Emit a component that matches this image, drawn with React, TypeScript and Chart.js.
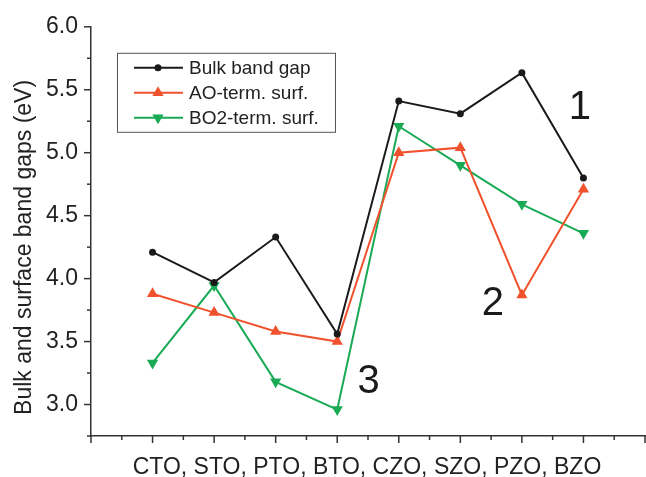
import { useEffect, useRef } from 'react';
import { Chart, registerables } from 'chart.js';

Chart.register(...registerables);

const categories = ['CTO', 'STO', 'PTO', 'BTO', 'CZO', 'SZO', 'PZO', 'BZO'];
const positions = [1, 2, 3, 4, 5, 6, 7, 8];
const bulkGap = [4.21, 3.97, 4.33, 3.56, 5.41, 5.31, 5.635, 4.8];
const aoTerm = [3.88, 3.73, 3.58, 3.5, 5.0, 5.04, 3.87, 4.71];
const bo2Term = [3.33, 3.945, 3.18, 2.96, 5.21, 4.9, 4.59, 4.36];
const yTicks = [3.0, 3.5, 4.0, 4.5, 5.0, 5.5, 6.0];
const seriesNames = ['Bulk band gap', 'AO-term. surf.', 'BO2-term. surf.'];
const notes = [
  { text: '1', x: 7.94, y: 5.384 },
  { text: '2', x: 6.53, y: 3.83 },
  { text: '3', x: 4.51, y: 3.205 },
];
const xTitle = categories.join(', ');
const yTitle = 'Bulk and surface band gaps (eV)';

const FONT = '"Liberation Sans", Arial, sans-serif';
const BLACK = '#1a1a1a';
const RED = '#ef522c';
const GREEN = '#1aaa55';
const AXIS = '#333333';

const overlay = {
  id: 'overlay',
  afterDraw(chart: any) {
    const ctx = chart.ctx;
    const xs = chart.scales.x;
    const ys = chart.scales.y;
    const area = chart.chartArea;
    ctx.save();
    ctx.strokeStyle = AXIS;
    ctx.lineWidth = 1.5;
    // y ticks
    for (let i = 0; i <= 13; i++) {
      const v = ys.min + i * 0.25;
      const py = ys.getPixelForValue(v);
      const major = Math.abs(v * 2 - Math.round(v * 2)) < 1e-6;
      ctx.beginPath();
      ctx.moveTo(area.left, py);
      ctx.lineTo(area.left - (major ? 7 : 4), py);
      ctx.stroke();
    }
    // x ticks
    for (let i = 0; i <= 18; i++) {
      const v = i * 0.5;
      const px = xs.getPixelForValue(v);
      const major = i % 2 === 0;
      ctx.beginPath();
      ctx.moveTo(px, area.bottom);
      ctx.lineTo(px, area.bottom + (major ? 7 : 4));
      ctx.stroke();
    }
    // titles
    ctx.fillStyle = '#222';
    ctx.font = `23px ${FONT}`;
    ctx.textAlign = 'center';
    ctx.textBaseline = 'alphabetic';
    ctx.fillText(xTitle, (area.left + area.right) / 2 - 1, area.bottom + 37.5);
    ctx.save();
    ctx.translate(31, (area.top + area.bottom) / 2 + 16);
    ctx.rotate(-Math.PI / 2);
    ctx.font = `23px ${FONT}`;
    ctx.fillText(yTitle, 0, 0);
    ctx.restore();
    // notes
    ctx.font = `40px ${FONT}`;
    ctx.fillStyle = '#1a1a1a';
    notes.forEach((n) => {
      ctx.fillText(n.text, xs.getPixelForValue(n.x), ys.getPixelForValue(n.y) + 14.5);
    });
    // legend
    const bx = area.left + 26;
    const by = area.top + 26;
    ctx.strokeStyle = '#555';
    ctx.lineWidth = 1;
    ctx.strokeRect(bx + 0.5, by + 0.5, 218, 79);
    ctx.font = `19px ${FONT}`;
    ctx.textAlign = 'left';
    ctx.textBaseline = 'middle';
    chart.data.datasets.forEach((ds: any, i: number) => {
      const ry = by + 15 + i * 25;
      ctx.strokeStyle = ds.borderColor;
      ctx.lineWidth = 2;
      ctx.beginPath();
      ctx.moveTo(bx + 17, ry);
      ctx.lineTo(bx + 66, ry);
      ctx.stroke();
      ctx.fillStyle = ds.pointBackgroundColor;
      const cx = bx + 41;
      ctx.beginPath();
      if (ds.pointStyle === 'circle') {
        ctx.arc(cx, ry, ds.pointRadius, 0, Math.PI * 2);
      } else {
        const r = ds.pointRadius;
        const dir = ds.pointRotation === 180 ? -1 : 1;
        ctx.moveTo(cx, ry - dir * r);
        ctx.lineTo(cx + r * 0.866, ry + dir * r * 0.5);
        ctx.lineTo(cx - r * 0.866, ry + dir * r * 0.5);
        ctx.closePath();
      }
      ctx.fill();
      ctx.fillStyle = '#222';
      ctx.fillText(ds.label, bx + 72, ry + 1);
    });
    ctx.restore();
  },
};

export default function App() {
  const ref = useRef<HTMLCanvasElement>(null);
  useEffect(() => {
    if (!ref.current) return;
    const mk = (vals: number[]) => positions.map((x, i) => ({ x, y: vals[i] }));
    const chart = new Chart(ref.current, {
      type: 'line',
      data: {
        datasets: [
          {
            label: seriesNames[0],
            data: mk(bulkGap),
            borderColor: BLACK,
            backgroundColor: BLACK,
            pointBackgroundColor: BLACK,
            pointBorderWidth: 0,
            pointStyle: 'circle',
            pointRadius: 3.5,
            borderWidth: 2,
          },
          {
            label: seriesNames[1],
            data: mk(aoTerm),
            borderColor: RED,
            backgroundColor: RED,
            pointBackgroundColor: RED,
            pointBorderWidth: 0,
            pointStyle: 'triangle',
            pointRadius: 6.5,
            borderWidth: 2,
          },
          {
            label: seriesNames[2],
            data: mk(bo2Term),
            borderColor: GREEN,
            backgroundColor: GREEN,
            pointBackgroundColor: GREEN,
            pointBorderWidth: 0,
            pointStyle: 'triangle',
            pointRotation: 180,
            pointRadius: 6.5,
            borderWidth: 2,
          },
        ] as any,
      },
      options: {
        animation: false,
        responsive: false,
        maintainAspectRatio: false,
        layout: { autoPadding: false, padding: { top: 24, right: 1, left: 0, bottom: 0 } },
        plugins: { legend: { display: false }, tooltip: { enabled: false } },
        scales: {
          x: {
            type: 'linear',
            min: 0,
            max: 9,
            grid: { display: false, drawTicks: false },
            border: { display: true, color: AXIS, width: 1.5 },
            ticks: { display: false },
            afterFit: (s: any) => {
              s.height = 41;
            },
          },
          y: {
            type: 'linear',
            min: 2.75,
            max: 6.0,
            grid: { display: false, drawTicks: false },
            border: { display: true, color: AXIS, width: 1.5 },
            afterBuildTicks: (s: any) => {
              s.ticks = yTicks.map((v) => ({ value: v }));
            },
            ticks: {
              padding: 13,
              color: '#222',
              font: { size: 23, family: FONT },
              callback: (v: any) => Number(v).toFixed(1),
            },
            afterFit: (s: any) => {
              s.width = 91;
            },
          },
        },
      } as any,
      plugins: [overlay],
    });
    return () => chart.destroy();
  }, []);
  return (
    <div style={{ position: 'absolute', left: 0, top: 0, width: 646, height: 477, background: '#fff' }}>
      <canvas ref={ref} width={646} height={477} />
    </div>
  );
}
